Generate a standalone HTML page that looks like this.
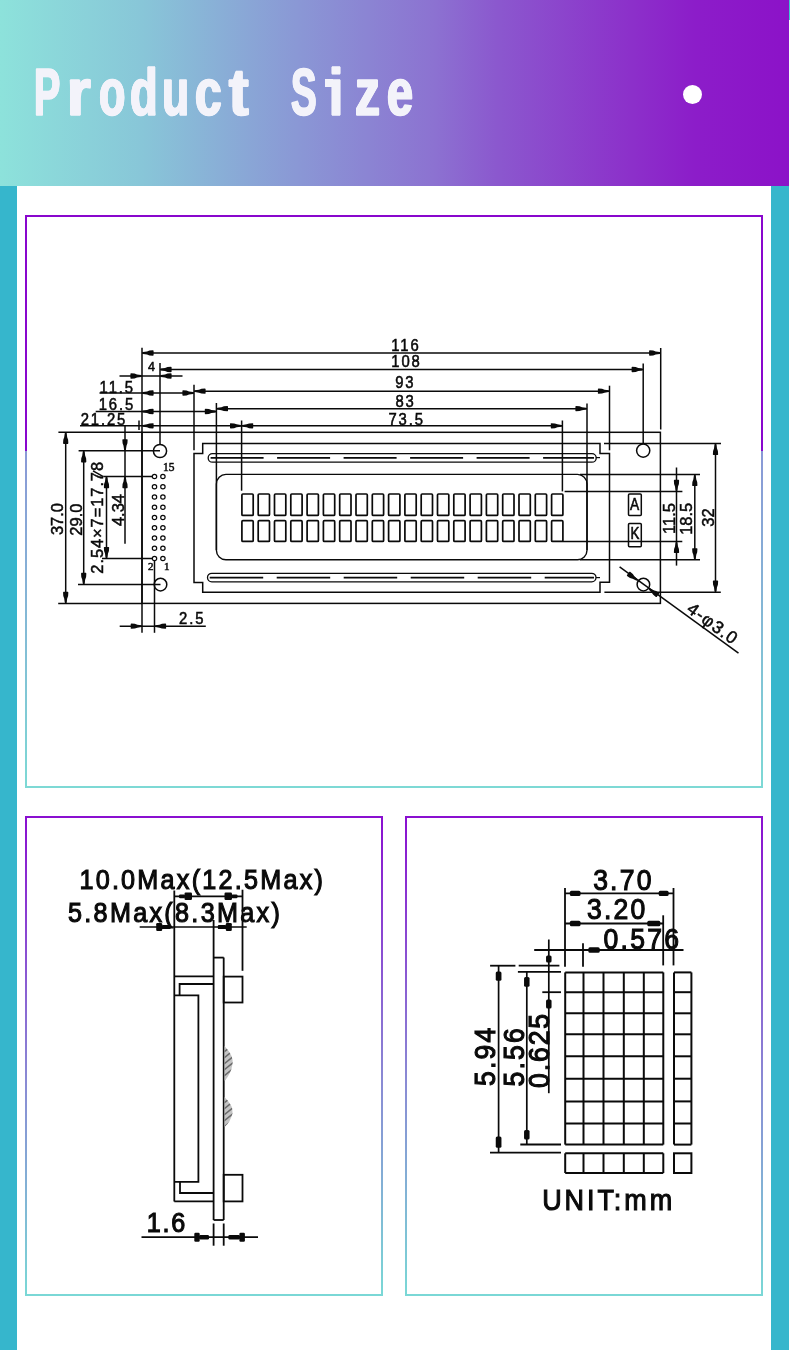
<!DOCTYPE html>
<html><head><meta charset="utf-8"><style>
html,body{margin:0;padding:0;}
body{width:790px;height:1350px;position:relative;overflow:hidden;background:#fff;font-family:"Liberation Sans",sans-serif;}
.hdr{position:absolute;left:0;top:0;width:789px;height:186px;background:linear-gradient(90deg,#8de2db 0%,#88c6d8 18%,#8a97d5 38%,#8c72d1 55%,#8b58ce 63%,#8c30ca 80%,#8c1dc9 88%,#8c12c8 100%);}
.ttl span{position:absolute;top:57.8px;font-family:"Liberation Sans",sans-serif;font-weight:bold;font-size:67.5px;line-height:1;color:#f3f3fa;-webkit-text-stroke:1.6px #f3f3fa;text-shadow:1.3px 0 0 #f3f3fa,-1.3px 0 0 #f3f3fa,0.65px 0 0 #f3f3fa,-0.65px 0 0 #f3f3fa;transform-origin:0 0;white-space:nowrap;}
.dot{position:absolute;left:683px;top:85px;width:19px;height:19px;border-radius:50%;background:#fff;}
.sl{position:absolute;left:0;top:186px;width:17px;height:1164px;background:#36b6cc;}
.sr{position:absolute;left:771px;top:186px;width:18px;height:1164px;background:#36b6cc;}
.edge{position:absolute;left:789px;top:0;width:1px;height:20px;background:#3fc6cf;}
.p1{position:absolute;left:25px;top:215px;width:738px;height:573px;}
.p1 .t{position:absolute;left:0;top:0;width:738px;height:236px;box-sizing:border-box;border:2px solid #8907cd;border-bottom:none;}
.p1 .b{position:absolute;left:0;top:236px;width:738px;height:337px;box-sizing:border-box;border:2px solid;border-top:none;border-image:linear-gradient(180deg,#8a98d6,#7dd9d5) 1;}
.pn{position:absolute;top:816px;width:378px;height:480px;box-sizing:border-box;border:2px solid;border-image:linear-gradient(180deg,#8a0fd0,#8a8ad4 55%,#7ad8d6) 1;}
svg{position:absolute;left:0;top:0;will-change:transform;}
svg line,svg path,svg rect,svg circle{stroke:#0a0a0a;}
svg text{fill:#0a0a0a;font-family:"Liberation Sans",sans-serif;stroke:#0a0a0a;stroke-width:0.5px;}
</style></head><body>
<div class="hdr"></div>
<div class="edge"></div>
<div class="ttl"><span style="left:34.13px;transform:scaleX(0.580)">P</span><span style="left:67.47px;transform:scaleX(0.898)">r</span><span style="left:98.55px;transform:scaleX(0.639)">o</span><span style="left:130.23px;transform:scaleX(0.671)">d</span><span style="left:162.48px;transform:scaleX(0.657)">u</span><span style="left:194.80px;transform:scaleX(0.708)">c</span><span style="left:229.33px;transform:scaleX(0.867)">t</span><span style="left:291.07px;transform:scaleX(0.567)">S</span><span style="left:328.78px;transform:scaleX(0.750)">i</span><span style="left:354.98px;transform:scaleX(0.739)">z</span><span style="left:386.72px;transform:scaleX(0.691)">e</span><i style="position:absolute;left:324.5px;top:79px;width:8px;height:7.7px;background:#f3f3fa"></i></div>
<div class="dot"></div>
<div class="sl"></div><div class="sr"></div>
<div class="p1"><div class="t"></div><div class="b"></div></div>
<div class="pn" style="left:25px;width:358px"></div>
<div class="pn" style="left:405px;width:358px"></div>
<svg width="790" height="1350" viewBox="0 0 790 1350">
<line x1="142" y1="353" x2="660.7" y2="353" stroke-width="1.7"/>
<polygon points="142.00,353.00 143.00,352.10 147.00,351.50 149.50,350.58 153.00,350.36 153.60,350.81 153.60,355.19 153.00,355.64 149.50,355.42 147.00,354.50 143.00,353.90" fill="#0a0a0a" stroke="none"/>
<polygon points="660.70,353.00 659.70,352.10 655.70,351.50 653.20,350.58 649.70,350.36 649.10,350.81 649.10,355.19 649.70,355.64 653.20,355.42 655.70,354.50 659.70,353.90" fill="#0a0a0a" stroke="none"/>
<text x="0" y="0" font-size="16.5" text-anchor="middle" transform="translate(405.95,350.7) scale(0.9,1)" letter-spacing="2.1" style="stroke-width:0.55px">116</text>
<line x1="160" y1="369.5" x2="643.2" y2="369.5" stroke-width="1.5"/>
<polygon points="160.00,369.50 161.00,368.60 165.00,368.00 167.50,367.08 171.00,366.86 171.60,367.31 171.60,371.69 171.00,372.14 167.50,371.92 165.00,371.00 161.00,370.40" fill="#0a0a0a" stroke="none"/>
<polygon points="643.20,369.50 642.20,368.60 638.20,368.00 635.70,367.08 632.20,366.86 631.60,367.31 631.60,371.69 632.20,372.14 635.70,371.92 638.20,371.00 642.20,370.40" fill="#0a0a0a" stroke="none"/>
<text x="0" y="0" font-size="16.5" text-anchor="middle" transform="translate(406.45,367.4) scale(0.9,1)" letter-spacing="2.1" style="stroke-width:0.55px">108</text>
<line x1="119.5" y1="376" x2="182.5" y2="376" stroke-width="1.5"/>
<polygon points="142.00,376.00 141.00,375.10 137.00,374.50 134.50,373.58 131.00,373.36 130.40,373.81 130.40,378.19 131.00,378.64 134.50,378.42 137.00,377.50 141.00,376.90" fill="#0a0a0a" stroke="none"/>
<polygon points="160.00,376.00 161.00,375.10 165.00,374.50 167.50,373.58 171.00,373.36 171.60,373.81 171.60,378.19 171.00,378.64 167.50,378.42 165.00,377.50 161.00,376.90" fill="#0a0a0a" stroke="none"/>
<text x="151.5" y="370.7" font-size="12.5" text-anchor="middle" >4</text>
<line x1="99.5" y1="393" x2="194" y2="393" stroke-width="1.5"/>
<polygon points="142.00,393.00 143.00,392.10 147.00,391.50 149.50,390.58 153.00,390.36 153.60,390.81 153.60,395.19 153.00,395.64 149.50,395.42 147.00,394.50 143.00,393.90" fill="#0a0a0a" stroke="none"/>
<polygon points="194.00,393.00 193.00,392.10 189.00,391.50 186.50,390.58 183.00,390.36 182.40,390.81 182.40,395.19 183.00,395.64 186.50,395.42 189.00,394.50 193.00,393.90" fill="#0a0a0a" stroke="none"/>
<text x="0" y="0" font-size="16.5" text-anchor="middle" transform="translate(117.25,392.7) scale(0.9,1)" letter-spacing="2.1" style="stroke-width:0.55px">11.5</text>
<line x1="194" y1="391.2" x2="609.5" y2="391.2" stroke-width="1.5"/>
<polygon points="194.00,391.20 195.00,390.30 199.00,389.70 201.50,388.78 205.00,388.56 205.60,389.01 205.60,393.38 205.00,393.84 201.50,393.62 199.00,392.70 195.00,392.10" fill="#0a0a0a" stroke="none"/>
<polygon points="609.50,391.20 608.50,390.30 604.50,389.70 602.00,388.78 598.50,388.56 597.90,389.01 597.90,393.38 598.50,393.84 602.00,393.62 604.50,392.70 608.50,392.10" fill="#0a0a0a" stroke="none"/>
<text x="0" y="0" font-size="16.5" text-anchor="middle" transform="translate(405.35,388.2) scale(0.9,1)" letter-spacing="2.1" style="stroke-width:0.55px">93</text>
<line x1="95.7" y1="411.5" x2="216.4" y2="411.5" stroke-width="1.5"/>
<polygon points="142.00,411.50 143.00,410.60 147.00,410.00 149.50,409.08 153.00,408.86 153.60,409.31 153.60,413.69 153.00,414.14 149.50,413.92 147.00,413.00 143.00,412.40" fill="#0a0a0a" stroke="none"/>
<polygon points="216.40,411.50 215.40,410.60 211.40,410.00 208.90,409.08 205.40,408.86 204.80,409.31 204.80,413.69 205.40,414.14 208.90,413.92 211.40,413.00 215.40,412.40" fill="#0a0a0a" stroke="none"/>
<text x="0" y="0" font-size="16.5" text-anchor="middle" transform="translate(116.95,410) scale(0.9,1)" letter-spacing="2.1" style="stroke-width:0.55px">16.5</text>
<line x1="216.4" y1="408.7" x2="587" y2="408.7" stroke-width="1.5"/>
<polygon points="216.40,408.70 217.40,407.80 221.40,407.20 223.90,406.28 227.40,406.06 228.00,406.51 228.00,410.88 227.40,411.34 223.90,411.12 221.40,410.20 217.40,409.60" fill="#0a0a0a" stroke="none"/>
<polygon points="587.00,408.70 586.00,407.80 582.00,407.20 579.50,406.28 576.00,406.06 575.40,406.51 575.40,410.88 576.00,411.34 579.50,411.12 582.00,410.20 586.00,409.60" fill="#0a0a0a" stroke="none"/>
<text x="0" y="0" font-size="16.5" text-anchor="middle" transform="translate(405.55,407.4) scale(0.9,1)" letter-spacing="2.1" style="stroke-width:0.55px">83</text>
<line x1="80" y1="425.8" x2="562.4" y2="425.8" stroke-width="1.5"/>
<polygon points="142.00,425.80 143.00,424.90 147.00,424.30 149.50,423.38 153.00,423.16 153.60,423.62 153.60,427.99 153.00,428.44 149.50,428.22 147.00,427.30 143.00,426.70" fill="#0a0a0a" stroke="none"/>
<polygon points="241.60,425.80 240.60,424.90 236.60,424.30 234.10,423.38 230.60,423.16 230.00,423.62 230.00,427.99 230.60,428.44 234.10,428.22 236.60,427.30 240.60,426.70" fill="#0a0a0a" stroke="none"/>
<polygon points="241.60,425.80 242.60,424.90 246.60,424.30 249.10,423.38 252.60,423.16 253.20,423.62 253.20,427.99 252.60,428.44 249.10,428.22 246.60,427.30 242.60,426.70" fill="#0a0a0a" stroke="none"/>
<polygon points="562.40,425.80 561.40,424.90 557.40,424.30 554.90,423.38 551.40,423.16 550.80,423.62 550.80,427.99 551.40,428.44 554.90,428.22 557.40,427.30 561.40,426.70" fill="#0a0a0a" stroke="none"/>
<text x="0" y="0" font-size="16.5" text-anchor="middle" transform="translate(103.95,424.7) scale(0.9,1)" letter-spacing="2.1" style="stroke-width:0.55px">21.25</text>
<text x="0" y="0" font-size="16.5" text-anchor="middle" transform="translate(406.65,424.6) scale(0.9,1)" letter-spacing="2.1" style="stroke-width:0.55px">73.5</text>
<line x1="139" y1="420.5" x2="139" y2="430" stroke-width="1.5"/>
<line x1="142" y1="347.7" x2="142" y2="632.8" stroke-width="1.5"/>
<line x1="160" y1="363" x2="160" y2="444.4" stroke-width="1.5"/>
<line x1="194" y1="384.7" x2="194" y2="450.2" stroke-width="1.5"/>
<line x1="216.4" y1="403" x2="216.4" y2="550" stroke-width="1.5"/>
<line x1="241.6" y1="420.5" x2="241.6" y2="490.7" stroke-width="1.5"/>
<line x1="562.4" y1="420.5" x2="562.4" y2="491.4" stroke-width="1.5"/>
<line x1="587" y1="403.4" x2="587" y2="550" stroke-width="1.5"/>
<line x1="609.5" y1="385.7" x2="609.5" y2="450.3" stroke-width="1.5"/>
<line x1="643.2" y1="363.4" x2="643.2" y2="444" stroke-width="1.5"/>
<line x1="660.7" y1="348" x2="660.7" y2="429.5" stroke-width="1.5"/>
<rect x="142" y="432.3" width="518.4" height="171.1" rx="0" fill="none" stroke-width="1.5"/>
<line x1="58.4" y1="432.3" x2="142" y2="432.3" stroke-width="1.5"/>
<line x1="58.2" y1="603.4" x2="142" y2="603.4" stroke-width="1.5"/>
<path d="M202.7 443.5 L600 443.5 L600 453.5 L609.5 453.5 L609.5 582.3 L600 582.3 L600 592.2 L202.7 592.2 L202.7 582.5 L194 582.5 L194 453.6 L202.7 453.6 Z" fill="none" stroke-width="1.5" />
<line x1="604" y1="443.5" x2="721" y2="443.5" stroke-width="1.5"/>
<line x1="604.4" y1="592.2" x2="720.8" y2="592.2" stroke-width="1.5"/>
<rect x="208.2" y="453.6" width="388" height="8.6" rx="4.3" fill="none" stroke-width="1.3"/>
<rect x="207.5" y="573.3" width="388.5" height="8.6" rx="4.3" fill="none" stroke-width="1.3"/>
<line x1="210.6" y1="457.9" x2="594" y2="457.9" stroke-width="1.8" stroke-dasharray="53 13.5"/>
<line x1="209.7" y1="577.7" x2="594" y2="577.7" stroke-width="1.8" stroke-dasharray="53.5 13.5"/>
<line x1="596" y1="457.6" x2="600" y2="457.6" stroke-width="1.2"/>
<line x1="596" y1="577.6" x2="600" y2="577.6" stroke-width="1.2"/>
<rect x="216.4" y="474.4" width="370.6" height="85.3" rx="9.5" fill="none" stroke-width="1.4"/>
<line x1="580" y1="474.4" x2="700" y2="474.4" stroke-width="1.5"/>
<line x1="580" y1="559.8" x2="700" y2="559.8" stroke-width="1.5"/>
<rect x="241.9" y="494" width="11.3" height="21.399999999999977" rx="1" fill="none" stroke-width="1.7"/>
<rect x="258.2" y="494" width="11.3" height="21.399999999999977" rx="1" fill="none" stroke-width="1.7"/>
<rect x="274.5" y="494" width="11.3" height="21.399999999999977" rx="1" fill="none" stroke-width="1.7"/>
<rect x="290.8" y="494" width="11.3" height="21.399999999999977" rx="1" fill="none" stroke-width="1.7"/>
<rect x="307.1" y="494" width="11.3" height="21.399999999999977" rx="1" fill="none" stroke-width="1.7"/>
<rect x="323.40000000000003" y="494" width="11.3" height="21.399999999999977" rx="1" fill="none" stroke-width="1.7"/>
<rect x="339.7" y="494" width="11.3" height="21.399999999999977" rx="1" fill="none" stroke-width="1.7"/>
<rect x="356.0" y="494" width="11.3" height="21.399999999999977" rx="1" fill="none" stroke-width="1.7"/>
<rect x="372.3" y="494" width="11.3" height="21.399999999999977" rx="1" fill="none" stroke-width="1.7"/>
<rect x="388.6" y="494" width="11.3" height="21.399999999999977" rx="1" fill="none" stroke-width="1.7"/>
<rect x="404.90000000000003" y="494" width="11.3" height="21.399999999999977" rx="1" fill="none" stroke-width="1.7"/>
<rect x="421.2" y="494" width="11.3" height="21.399999999999977" rx="1" fill="none" stroke-width="1.7"/>
<rect x="437.50000000000006" y="494" width="11.3" height="21.399999999999977" rx="1" fill="none" stroke-width="1.7"/>
<rect x="453.8" y="494" width="11.3" height="21.399999999999977" rx="1" fill="none" stroke-width="1.7"/>
<rect x="470.1" y="494" width="11.3" height="21.399999999999977" rx="1" fill="none" stroke-width="1.7"/>
<rect x="486.40000000000003" y="494" width="11.3" height="21.399999999999977" rx="1" fill="none" stroke-width="1.7"/>
<rect x="502.7" y="494" width="11.3" height="21.399999999999977" rx="1" fill="none" stroke-width="1.7"/>
<rect x="519.0" y="494" width="11.3" height="21.399999999999977" rx="1" fill="none" stroke-width="1.7"/>
<rect x="535.3" y="494" width="11.3" height="21.399999999999977" rx="1" fill="none" stroke-width="1.7"/>
<rect x="551.5999999999999" y="494" width="11.3" height="21.399999999999977" rx="1" fill="none" stroke-width="1.7"/>
<rect x="241.9" y="520.7" width="11.3" height="20.699999999999932" rx="1" fill="none" stroke-width="1.7"/>
<rect x="258.2" y="520.7" width="11.3" height="20.699999999999932" rx="1" fill="none" stroke-width="1.7"/>
<rect x="274.5" y="520.7" width="11.3" height="20.699999999999932" rx="1" fill="none" stroke-width="1.7"/>
<rect x="290.8" y="520.7" width="11.3" height="20.699999999999932" rx="1" fill="none" stroke-width="1.7"/>
<rect x="307.1" y="520.7" width="11.3" height="20.699999999999932" rx="1" fill="none" stroke-width="1.7"/>
<rect x="323.40000000000003" y="520.7" width="11.3" height="20.699999999999932" rx="1" fill="none" stroke-width="1.7"/>
<rect x="339.7" y="520.7" width="11.3" height="20.699999999999932" rx="1" fill="none" stroke-width="1.7"/>
<rect x="356.0" y="520.7" width="11.3" height="20.699999999999932" rx="1" fill="none" stroke-width="1.7"/>
<rect x="372.3" y="520.7" width="11.3" height="20.699999999999932" rx="1" fill="none" stroke-width="1.7"/>
<rect x="388.6" y="520.7" width="11.3" height="20.699999999999932" rx="1" fill="none" stroke-width="1.7"/>
<rect x="404.90000000000003" y="520.7" width="11.3" height="20.699999999999932" rx="1" fill="none" stroke-width="1.7"/>
<rect x="421.2" y="520.7" width="11.3" height="20.699999999999932" rx="1" fill="none" stroke-width="1.7"/>
<rect x="437.50000000000006" y="520.7" width="11.3" height="20.699999999999932" rx="1" fill="none" stroke-width="1.7"/>
<rect x="453.8" y="520.7" width="11.3" height="20.699999999999932" rx="1" fill="none" stroke-width="1.7"/>
<rect x="470.1" y="520.7" width="11.3" height="20.699999999999932" rx="1" fill="none" stroke-width="1.7"/>
<rect x="486.40000000000003" y="520.7" width="11.3" height="20.699999999999932" rx="1" fill="none" stroke-width="1.7"/>
<rect x="502.7" y="520.7" width="11.3" height="20.699999999999932" rx="1" fill="none" stroke-width="1.7"/>
<rect x="519.0" y="520.7" width="11.3" height="20.699999999999932" rx="1" fill="none" stroke-width="1.7"/>
<rect x="535.3" y="520.7" width="11.3" height="20.699999999999932" rx="1" fill="none" stroke-width="1.7"/>
<rect x="551.5999999999999" y="520.7" width="11.3" height="20.699999999999932" rx="1" fill="none" stroke-width="1.7"/>
<line x1="564.6" y1="491.4" x2="682.4" y2="491.4" stroke-width="1.5"/>
<line x1="562.5" y1="541.4" x2="682.3" y2="541.4" stroke-width="1.5"/>
<line x1="676.5" y1="467.5" x2="676.5" y2="565.6" stroke-width="1.5"/>
<polygon points="676.50,491.40 675.60,490.40 675.00,486.40 674.09,483.90 673.86,480.40 674.32,479.80 678.68,479.80 679.14,480.40 678.91,483.90 678.00,486.40 677.40,490.40" fill="#0a0a0a" stroke="none"/>
<polygon points="676.50,541.40 675.60,542.40 675.00,546.40 674.09,548.90 673.86,552.40 674.32,553.00 678.68,553.00 679.14,552.40 678.91,548.90 678.00,546.40 677.40,542.40" fill="#0a0a0a" stroke="none"/>
<line x1="694.8" y1="474.4" x2="694.8" y2="559.8" stroke-width="1.5"/>
<polygon points="694.80,474.40 693.90,475.40 693.30,479.40 692.38,481.90 692.15,485.40 692.62,486.00 696.98,486.00 697.44,485.40 697.21,481.90 696.30,479.40 695.70,475.40" fill="#0a0a0a" stroke="none"/>
<polygon points="694.80,559.80 693.90,558.80 693.30,554.80 692.38,552.30 692.15,548.80 692.62,548.20 696.98,548.20 697.44,548.80 697.21,552.30 696.30,554.80 695.70,558.80" fill="#0a0a0a" stroke="none"/>
<line x1="715.5" y1="443.5" x2="715.5" y2="592.2" stroke-width="1.5"/>
<polygon points="715.50,443.50 714.60,444.50 714.00,448.50 713.09,451.00 712.86,454.50 713.32,455.10 717.68,455.10 718.14,454.50 717.91,451.00 717.00,448.50 716.40,444.50" fill="#0a0a0a" stroke="none"/>
<polygon points="715.50,592.20 714.60,591.20 714.00,587.20 713.09,584.70 712.86,581.20 713.32,580.60 717.68,580.60 718.14,581.20 717.91,584.70 717.00,587.20 716.40,591.20" fill="#0a0a0a" stroke="none"/>
<text x="0" y="0" font-size="16.5" text-anchor="middle" transform="translate(669.4,518.5) rotate(-90) translate(0,5.91)" >11.5</text>
<text x="0" y="0" font-size="16.5" text-anchor="middle" transform="translate(686.2,518.8) rotate(-90) translate(0,5.91)" >18.5</text>
<text x="0" y="0" font-size="16.5" text-anchor="middle" transform="translate(708,517.5) rotate(-90) translate(0,5.91)" >32</text>
<rect x="628.5" y="494" width="12.8" height="21.4" rx="1" fill="none" stroke-width="1.5"/>
<rect x="628.5" y="523.5" width="12.8" height="23.2" rx="1" fill="none" stroke-width="1.5"/>
<text x="0" y="0" font-size="16.8" text-anchor="middle" transform="translate(634.5,509.6) scale(0.82,1)" style="stroke-width:0.6px">A</text>
<text x="0" y="0" font-size="16.3" text-anchor="middle" transform="translate(634.9,539) scale(0.82,1)" style="stroke-width:0.6px">K</text>
<circle cx="160" cy="451" r="6.6" fill="none" stroke-width="1.5"/>
<circle cx="643.2" cy="450.6" r="6.6" fill="none" stroke-width="1.5"/>
<circle cx="160.5" cy="584.6" r="6.3" fill="none" stroke-width="1.5"/>
<circle cx="643.4" cy="584.6" r="6.3" fill="none" stroke-width="1.5"/>
<line x1="78.6" y1="450.8" x2="160" y2="450.8" stroke-width="1.5"/>
<line x1="103.3" y1="476.6" x2="152.2" y2="476.6" stroke-width="1.5"/>
<line x1="102" y1="558.6" x2="152.5" y2="558.6" stroke-width="1.5"/>
<line x1="78" y1="584.4" x2="160.5" y2="584.4" stroke-width="1.5"/>
<line x1="93" y1="470.8" x2="103.3" y2="476.6" stroke-width="1.5"/>
<line x1="65.7" y1="432.3" x2="65.7" y2="603.4" stroke-width="1.5"/>
<polygon points="65.70,432.30 64.80,433.30 64.20,437.30 63.29,439.80 63.06,443.30 63.52,443.90 67.89,443.90 68.34,443.30 68.12,439.80 67.20,437.30 66.60,433.30" fill="#0a0a0a" stroke="none"/>
<polygon points="65.70,603.40 64.80,602.40 64.20,598.40 63.29,595.90 63.06,592.40 63.52,591.80 67.89,591.80 68.34,592.40 68.12,595.90 67.20,598.40 66.60,602.40" fill="#0a0a0a" stroke="none"/>
<line x1="83.7" y1="450.8" x2="83.7" y2="584.4" stroke-width="1.5"/>
<polygon points="83.70,450.80 82.80,451.80 82.20,455.80 81.28,458.30 81.06,461.80 81.52,462.40 85.89,462.40 86.34,461.80 86.12,458.30 85.20,455.80 84.60,451.80" fill="#0a0a0a" stroke="none"/>
<polygon points="83.70,584.40 82.80,583.40 82.20,579.40 81.28,576.90 81.06,573.40 81.52,572.80 85.89,572.80 86.34,573.40 86.12,576.90 85.20,579.40 84.60,583.40" fill="#0a0a0a" stroke="none"/>
<line x1="106.5" y1="476.6" x2="106.5" y2="558.6" stroke-width="1.5"/>
<polygon points="106.50,476.60 105.60,477.60 105.00,481.60 104.08,484.10 103.86,487.60 104.31,488.20 108.69,488.20 109.14,487.60 108.92,484.10 108.00,481.60 107.40,477.60" fill="#0a0a0a" stroke="none"/>
<polygon points="106.50,558.60 105.60,557.60 105.00,553.60 104.08,551.10 103.86,547.60 104.31,547.00 108.69,547.00 109.14,547.60 108.92,551.10 108.00,553.60 107.40,557.60" fill="#0a0a0a" stroke="none"/>
<line x1="125" y1="425.8" x2="125" y2="543.7" stroke-width="1.5"/>
<polygon points="125.00,450.80 124.10,449.80 123.50,445.80 122.58,443.30 122.36,439.80 122.81,439.20 127.19,439.20 127.64,439.80 127.42,443.30 126.50,445.80 125.90,449.80" fill="#0a0a0a" stroke="none"/>
<polygon points="125.00,476.60 124.10,477.60 123.50,481.60 122.58,484.10 122.36,487.60 122.81,488.20 127.19,488.20 127.64,487.60 127.42,484.10 126.50,481.60 125.90,477.60" fill="#0a0a0a" stroke="none"/>
<text x="0" y="0" font-size="16.5" text-anchor="middle" transform="translate(57.4,519) rotate(-90) translate(0,5.91)" >37.0</text>
<text x="0" y="0" font-size="16.5" text-anchor="middle" transform="translate(75.6,519.6) rotate(-90) translate(0,5.91)" >29.0</text>
<text x="0" y="0" font-size="16.5" text-anchor="middle" transform="translate(97,517.3) rotate(-90) translate(0,5.91)" letter-spacing="0.9">2.54×7=17.78</text>
<text x="0" y="0" font-size="16.5" text-anchor="middle" transform="translate(117.8,510) rotate(-90) translate(0,5.91)" >4.34</text>
<circle cx="154.5" cy="476.5" r="2.2" fill="none" stroke-width="1.2"/>
<circle cx="162.9" cy="476.5" r="2.2" fill="none" stroke-width="1.2"/>
<circle cx="154.5" cy="486.75" r="2.2" fill="none" stroke-width="1.2"/>
<circle cx="162.9" cy="486.75" r="2.2" fill="none" stroke-width="1.2"/>
<circle cx="154.5" cy="497.0" r="2.2" fill="none" stroke-width="1.2"/>
<circle cx="162.9" cy="497.0" r="2.2" fill="none" stroke-width="1.2"/>
<circle cx="154.5" cy="507.25" r="2.2" fill="none" stroke-width="1.2"/>
<circle cx="162.9" cy="507.25" r="2.2" fill="none" stroke-width="1.2"/>
<circle cx="154.5" cy="517.5" r="2.2" fill="none" stroke-width="1.2"/>
<circle cx="162.9" cy="517.5" r="2.2" fill="none" stroke-width="1.2"/>
<circle cx="154.5" cy="527.75" r="2.2" fill="none" stroke-width="1.2"/>
<circle cx="162.9" cy="527.75" r="2.2" fill="none" stroke-width="1.2"/>
<circle cx="154.5" cy="538.0" r="2.2" fill="none" stroke-width="1.2"/>
<circle cx="162.9" cy="538.0" r="2.2" fill="none" stroke-width="1.2"/>
<circle cx="154.5" cy="548.25" r="2.2" fill="none" stroke-width="1.2"/>
<circle cx="162.9" cy="548.25" r="2.2" fill="none" stroke-width="1.2"/>
<circle cx="154.5" cy="558.5" r="2.2" fill="none" stroke-width="1.2"/>
<circle cx="162.9" cy="558.5" r="2.2" fill="none" stroke-width="1.2"/>
<text x="163" y="471" font-size="11.5" text-anchor="start" style="font-family:Liberation Serif" >15</text>
<text x="148" y="570" font-size="11" text-anchor="start" style="font-family:Liberation Serif" >2</text>
<text x="164" y="569.5" font-size="11" text-anchor="start" style="font-family:Liberation Serif" >1</text>
<line x1="154.5" y1="560.7" x2="154.5" y2="632.8" stroke-width="1.5"/>
<line x1="119.7" y1="626.2" x2="205.8" y2="626.2" stroke-width="1.5"/>
<polygon points="142.30,626.20 141.30,625.30 137.30,624.70 134.80,623.79 131.30,623.56 130.70,624.02 130.70,628.38 131.30,628.85 134.80,628.62 137.30,627.70 141.30,627.10" fill="#0a0a0a" stroke="none"/>
<polygon points="154.50,626.20 155.50,625.30 159.50,624.70 162.00,623.79 165.50,623.56 166.10,624.02 166.10,628.38 165.50,628.85 162.00,628.62 159.50,627.70 155.50,627.10" fill="#0a0a0a" stroke="none"/>
<text x="0" y="0" font-size="16.5" text-anchor="middle" transform="translate(192.15,624.4) scale(0.9,1)" letter-spacing="2.1" style="stroke-width:0.55px">2.5</text>
<line x1="619.6" y1="566.8" x2="738.5" y2="653.2" stroke-width="1.5"/>
<polygon points="637.50,580.40 637.22,579.08 634.34,576.25 632.85,574.04 630.16,571.79 629.40,571.81 626.83,575.35 627.05,576.07 630.01,577.94 632.57,578.67 636.16,580.54" fill="#0a0a0a" stroke="none"/>
<polygon points="648.60,588.50 648.88,589.82 651.76,592.65 653.25,594.86 655.94,597.11 656.70,597.09 659.27,593.55 659.05,592.83 656.09,590.96 653.53,590.23 649.94,588.36" fill="#0a0a0a" stroke="none"/>
<text x="0" y="0" font-size="17.5" letter-spacing="1.2" transform="translate(687,606.5) rotate(36.00) translate(1.8,4.5)">4-φ3.0</text>
<text x="0" y="0" font-size="28" text-anchor="start" letter-spacing="2.48" transform="translate(79.40,889.2) scale(0.9,1)" style="stroke-width:1.15px">10.0Max(12.5Max)</text>
<text x="0" y="0" font-size="28" text-anchor="start" letter-spacing="2.55" transform="translate(68.00,922.4) scale(0.9,1)" style="stroke-width:1.15px">5.8Max(8.3Max)</text>
<line x1="174.3" y1="890.6" x2="174.3" y2="1201.4" stroke-width="1.8"/>
<line x1="213.6" y1="919.9" x2="213.6" y2="1220" stroke-width="1.8"/>
<line x1="223.7" y1="957.6" x2="223.7" y2="1220" stroke-width="1.8"/>
<line x1="213.6" y1="957.6" x2="223.7" y2="957.6" stroke-width="1.8"/>
<line x1="213.6" y1="1220" x2="223.7" y2="1220" stroke-width="1.8"/>
<line x1="242.5" y1="889.7" x2="242.5" y2="970.8" stroke-width="1.8"/>
<rect x="223.7" y="976.6" width="18.8" height="25.9" rx="0" fill="none" stroke-width="1.8"/>
<rect x="223.7" y="1174.8" width="18.8" height="26.6" rx="0" fill="none" stroke-width="1.8"/>
<line x1="174.3" y1="976.4" x2="213.6" y2="976.4" stroke-width="1.8"/>
<line x1="174.3" y1="1201.4" x2="213.6" y2="1201.4" stroke-width="1.8"/>
<path d="M213.6 984 L179.6 984 L179.6 995.4" fill="none" stroke-width="1.8" />
<path d="M174.3 995.4 L198.4 995.4 L198.4 1181.9 L174.3 1181.9" fill="none" stroke-width="1.8" />
<path d="M180 1181.9 L180 1193 L213.6 1193" fill="none" stroke-width="1.8" />
<line x1="174.3" y1="896.3" x2="242.3" y2="896.3" stroke-width="1.7"/>
<rect x="179.00" y="894.40" width="6.00" height="3.80" rx="1.2" fill="#0a0a0a" style="stroke:none"/>
<rect x="184.50" y="892.55" width="7.50" height="7.50" rx="1.2" fill="#0a0a0a" style="stroke:none"/>
<rect x="231.50" y="894.40" width="6.00" height="3.80" rx="1.2" fill="#0a0a0a" style="stroke:none"/>
<rect x="224.50" y="892.55" width="7.50" height="7.50" rx="1.2" fill="#0a0a0a" style="stroke:none"/>
<line x1="139.7" y1="927" x2="246.7" y2="927" stroke-width="1.7"/>
<rect x="161.70" y="924.90" width="9.00" height="4.20" rx="1.2" fill="#0a0a0a" style="stroke:none"/>
<rect x="156.20" y="923.00" width="6.00" height="8.00" rx="1.2" fill="#0a0a0a" style="stroke:none"/>
<rect x="217.80" y="924.90" width="8.50" height="4.20" rx="1.2" fill="#0a0a0a" style="stroke:none"/>
<rect x="225.80" y="923.00" width="6.00" height="8.00" rx="1.2" fill="#0a0a0a" style="stroke:none"/>
<line x1="213.6" y1="1223.5" x2="213.6" y2="1245.7" stroke-width="1.8"/>
<line x1="223.7" y1="1223.5" x2="223.7" y2="1245.7" stroke-width="1.8"/>
<line x1="141.5" y1="1237.2" x2="258" y2="1237.2" stroke-width="1.7"/>
<rect x="199.20" y="1234.95" width="9.80" height="4.50" rx="1.2" fill="#0a0a0a" style="stroke:none"/>
<rect x="194.30" y="1232.70" width="5.40" height="9.00" rx="1.2" fill="#0a0a0a" style="stroke:none"/>
<rect x="228.40" y="1234.95" width="11.50" height="4.50" rx="1.2" fill="#0a0a0a" style="stroke:none"/>
<rect x="239.40" y="1232.70" width="5.50" height="9.00" rx="1.2" fill="#0a0a0a" style="stroke:none"/>
<text x="0" y="0" font-size="28" text-anchor="middle" letter-spacing="2.00" transform="translate(166.95,1232.4) scale(0.9,1)" style="stroke-width:1.15px">1.6</text>
<defs><clipPath id="cb1"><path d="M224.5 1046 Q234 1056 232.5 1064 Q231 1074 224.5 1081 Z"/></clipPath><clipPath id="cb2"><path d="M224.5 1097 Q233.5 1106 232.5 1113 Q231 1121 224.5 1127 Z"/></clipPath></defs>
<path d="M224.5 1046 Q234 1056 232.5 1064 Q231 1074 224.5 1081 Z" fill="#c4c4c4" style="stroke:none"/>
<line x1="224" y1="1052" x2="234" y2="1044" clip-path="url(#cb1)" style="stroke:#6a6a6a;stroke-width:1.6"/>
<line x1="224" y1="1058" x2="234" y2="1050" clip-path="url(#cb1)" style="stroke:#6a6a6a;stroke-width:1.6"/>
<line x1="224" y1="1064" x2="234" y2="1056" clip-path="url(#cb1)" style="stroke:#6a6a6a;stroke-width:1.6"/>
<line x1="224" y1="1070" x2="234" y2="1062" clip-path="url(#cb1)" style="stroke:#6a6a6a;stroke-width:1.6"/>
<line x1="224" y1="1076" x2="234" y2="1068" clip-path="url(#cb1)" style="stroke:#6a6a6a;stroke-width:1.6"/>
<line x1="224" y1="1082" x2="234" y2="1074" clip-path="url(#cb1)" style="stroke:#6a6a6a;stroke-width:1.6"/>
<line x1="224" y1="1088" x2="234" y2="1080" clip-path="url(#cb1)" style="stroke:#6a6a6a;stroke-width:1.6"/>
<path d="M224.5 1097 Q233.5 1106 232.5 1113 Q231 1121 224.5 1127 Z" fill="#c4c4c4" style="stroke:none"/>
<line x1="224" y1="1103" x2="234" y2="1095" clip-path="url(#cb2)" style="stroke:#6a6a6a;stroke-width:1.6"/>
<line x1="224" y1="1109" x2="234" y2="1101" clip-path="url(#cb2)" style="stroke:#6a6a6a;stroke-width:1.6"/>
<line x1="224" y1="1115" x2="234" y2="1107" clip-path="url(#cb2)" style="stroke:#6a6a6a;stroke-width:1.6"/>
<line x1="224" y1="1121" x2="234" y2="1113" clip-path="url(#cb2)" style="stroke:#6a6a6a;stroke-width:1.6"/>
<line x1="224" y1="1127" x2="234" y2="1119" clip-path="url(#cb2)" style="stroke:#6a6a6a;stroke-width:1.6"/>
<line x1="224" y1="1133" x2="234" y2="1125" clip-path="url(#cb2)" style="stroke:#6a6a6a;stroke-width:1.6"/>
<text x="0" y="0" font-size="29.5" text-anchor="middle" letter-spacing="2.48" transform="translate(623.42,889.5) scale(0.9,1)" style="stroke-width:1.15px">3.70</text>
<line x1="565" y1="893.4" x2="673.5" y2="893.4" stroke-width="1.8"/>
<rect x="569.90" y="890.70" width="10.60" height="5.40" rx="1.5" fill="#0a0a0a" style="stroke:none"/>
<rect x="658.70" y="890.70" width="9.90" height="5.40" rx="1.5" fill="#0a0a0a" style="stroke:none"/>
<text x="0" y="0" font-size="29.5" text-anchor="middle" letter-spacing="2.48" transform="translate(617.32,919.3) scale(0.9,1)" style="stroke-width:1.15px">3.20</text>
<line x1="565" y1="923.5" x2="663.2" y2="923.5" stroke-width="1.8"/>
<rect x="569.90" y="920.80" width="10.60" height="5.40" rx="1.5" fill="#0a0a0a" style="stroke:none"/>
<rect x="647.30" y="920.80" width="13.00" height="5.40" rx="1.5" fill="#0a0a0a" style="stroke:none"/>
<text x="0" y="0" font-size="29.5" text-anchor="middle" letter-spacing="2.53" transform="translate(642.44,948.7) scale(0.9,1)" style="stroke-width:1.15px">0.576</text>
<line x1="534.2" y1="950" x2="683.5" y2="950" stroke-width="1.8"/>
<rect x="588.40" y="947.20" width="11.30" height="5.60" rx="1.5" fill="#0a0a0a" style="stroke:none"/>
<line x1="565" y1="888" x2="565" y2="966.7" stroke-width="1.8"/>
<line x1="673.5" y1="888" x2="673.5" y2="965.4" stroke-width="1.8"/>
<line x1="663.2" y1="915.3" x2="663.2" y2="965.4" stroke-width="1.8"/>
<line x1="583" y1="943.3" x2="583" y2="966.7" stroke-width="1.8"/>
<line x1="565.2" y1="972.4" x2="565.2" y2="1144.6" stroke-width="2.0"/>
<line x1="583.5" y1="972.4" x2="583.5" y2="1144.6" stroke-width="2.0"/>
<line x1="603.5" y1="972.4" x2="603.5" y2="1144.6" stroke-width="2.0"/>
<line x1="623.8" y1="972.4" x2="623.8" y2="1144.6" stroke-width="2.0"/>
<line x1="643.8" y1="972.4" x2="643.8" y2="1144.6" stroke-width="2.0"/>
<line x1="663.3" y1="972.4" x2="663.3" y2="1144.6" stroke-width="2.0"/>
<line x1="565.2" y1="972.4" x2="663.3" y2="972.4" stroke-width="2.0"/>
<line x1="565.2" y1="992.2" x2="663.3" y2="992.2" stroke-width="2.0"/>
<line x1="565.2" y1="1013.3" x2="663.3" y2="1013.3" stroke-width="2.0"/>
<line x1="565.2" y1="1034.3" x2="663.3" y2="1034.3" stroke-width="2.0"/>
<line x1="565.2" y1="1056.3" x2="663.3" y2="1056.3" stroke-width="2.0"/>
<line x1="565.2" y1="1078.7" x2="663.3" y2="1078.7" stroke-width="2.0"/>
<line x1="565.2" y1="1101.4" x2="663.3" y2="1101.4" stroke-width="2.0"/>
<line x1="565.2" y1="1123.5" x2="663.3" y2="1123.5" stroke-width="2.0"/>
<line x1="565.2" y1="1144.6" x2="663.3" y2="1144.6" stroke-width="2.0"/>
<line x1="674" y1="972.4" x2="674" y2="1144.6" stroke-width="2.0"/>
<line x1="691.4" y1="972.4" x2="691.4" y2="1144.6" stroke-width="2.0"/>
<line x1="674" y1="972.4" x2="691.4" y2="972.4" stroke-width="2.0"/>
<line x1="674" y1="992.2" x2="691.4" y2="992.2" stroke-width="2.0"/>
<line x1="674" y1="1013.3" x2="691.4" y2="1013.3" stroke-width="2.0"/>
<line x1="674" y1="1034.3" x2="691.4" y2="1034.3" stroke-width="2.0"/>
<line x1="674" y1="1056.3" x2="691.4" y2="1056.3" stroke-width="2.0"/>
<line x1="674" y1="1078.7" x2="691.4" y2="1078.7" stroke-width="2.0"/>
<line x1="674" y1="1101.4" x2="691.4" y2="1101.4" stroke-width="2.0"/>
<line x1="674" y1="1123.5" x2="691.4" y2="1123.5" stroke-width="2.0"/>
<line x1="674" y1="1144.6" x2="691.4" y2="1144.6" stroke-width="2.0"/>
<line x1="565.2" y1="1153.3" x2="565.2" y2="1173" stroke-width="2.0"/>
<line x1="583.5" y1="1153.3" x2="583.5" y2="1173" stroke-width="2.0"/>
<line x1="603.5" y1="1153.3" x2="603.5" y2="1173" stroke-width="2.0"/>
<line x1="623.8" y1="1153.3" x2="623.8" y2="1173" stroke-width="2.0"/>
<line x1="643.8" y1="1153.3" x2="643.8" y2="1173" stroke-width="2.0"/>
<line x1="663.3" y1="1153.3" x2="663.3" y2="1173" stroke-width="2.0"/>
<line x1="565.2" y1="1153.3" x2="663.3" y2="1153.3" stroke-width="2.0"/>
<line x1="565.2" y1="1173" x2="663.3" y2="1173" stroke-width="2.0"/>
<rect x="674" y="1153.3" width="17.4" height="19.7" rx="0" fill="none" stroke-width="2.0"/>
<line x1="490.1" y1="965.7" x2="515.4" y2="965.7" stroke-width="1.8"/>
<line x1="518.7" y1="965.7" x2="559.4" y2="965.7" stroke-width="1.8"/>
<line x1="490" y1="1152.7" x2="561" y2="1152.7" stroke-width="1.8"/>
<line x1="498.6" y1="965.7" x2="498.6" y2="1152.7" stroke-width="1.7"/>
<rect x="495.75" y="971.40" width="5.70" height="9.40" rx="1.5" fill="#0a0a0a" style="stroke:none"/>
<rect x="495.75" y="1136.40" width="5.70" height="11.40" rx="1.5" fill="#0a0a0a" style="stroke:none"/>
<line x1="517.9" y1="971.8" x2="561" y2="971.8" stroke-width="1.8"/>
<line x1="520.3" y1="1144.5" x2="561" y2="1144.5" stroke-width="1.8"/>
<line x1="526.8" y1="971.8" x2="526.8" y2="1144.5" stroke-width="1.7"/>
<rect x="524.05" y="977.10" width="5.50" height="9.70" rx="1.5" fill="#0a0a0a" style="stroke:none"/>
<rect x="524.05" y="1129.90" width="5.50" height="9.70" rx="1.5" fill="#0a0a0a" style="stroke:none"/>
<line x1="548.8" y1="939.5" x2="548.8" y2="1093.2" stroke-width="1.7"/>
<rect x="546.05" y="955.50" width="5.50" height="7.00" rx="1.5" fill="#0a0a0a" style="stroke:none"/>
<rect x="546.05" y="999.50" width="5.50" height="8.90" rx="1.5" fill="#0a0a0a" style="stroke:none"/>
<line x1="542.3" y1="992.2" x2="561" y2="992.2" stroke-width="1.8"/>
<text x="0" y="0" font-size="29.5" text-anchor="middle" letter-spacing="2.48" transform="translate(484.6,1056.5) rotate(-90) translate(0.72,10.56) scale(0.9,1)" style="stroke-width:1.15px">5.94</text>
<text x="0" y="0" font-size="29.5" text-anchor="middle" letter-spacing="2.48" transform="translate(513.1,1057) rotate(-90) translate(0.72,10.56) scale(0.9,1)" style="stroke-width:1.15px">5.56</text>
<text x="0" y="0" font-size="29.5" text-anchor="middle" letter-spacing="2.14" transform="translate(538.6,1050.7) rotate(-90) translate(0.74,10.56) scale(0.9,1)" style="stroke-width:1.15px">0.625</text>
<text x="0" y="0" font-size="30" text-anchor="middle" letter-spacing="3.26" transform="translate(608.62,1210.4) scale(0.9,1)" style="stroke-width:1.15px">UNIT:mm</text>
</svg>
</body></html>
